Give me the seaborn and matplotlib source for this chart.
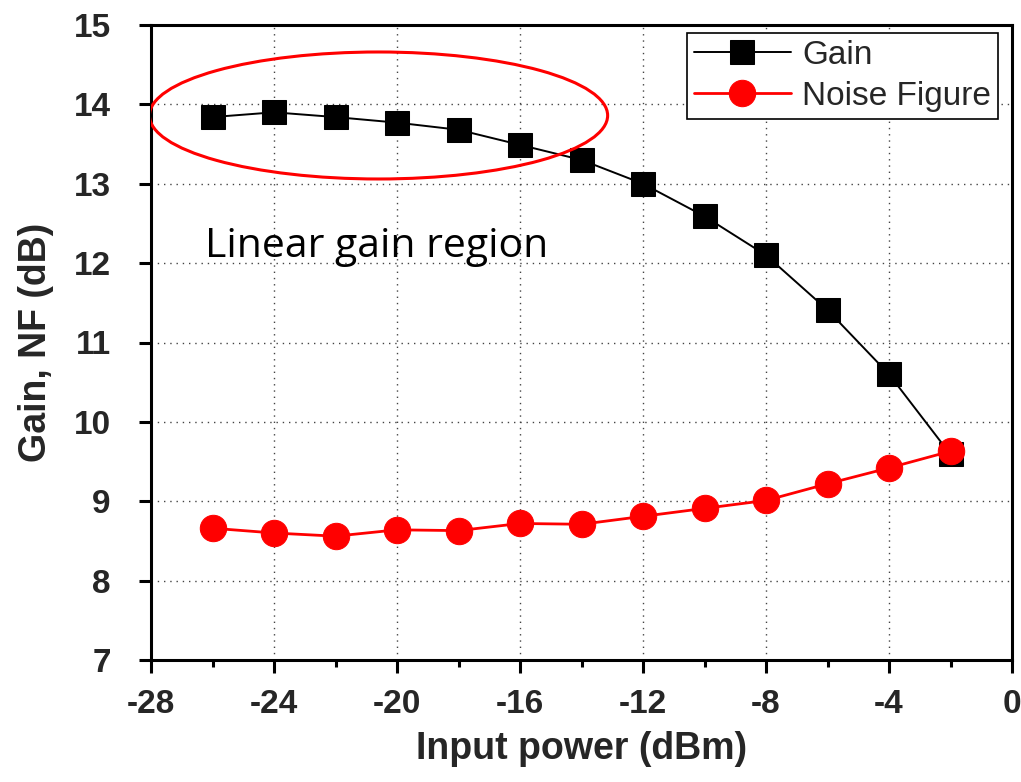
import matplotlib
matplotlib.use("Agg")
import matplotlib.pyplot as plt
from matplotlib.patches import Ellipse
from matplotlib.ticker import MultipleLocator
import seaborn as sns
import pandas as pd

# ---- data ----
input_power = [-26, -24, -22, -20, -18, -16, -14, -12, -10, -8, -6, -4, -2]
gain = [13.84, 13.90, 13.84, 13.77, 13.68, 13.49, 13.30, 13.00, 12.59, 12.10, 11.41, 10.60, 9.59]
noise_figure = [8.66, 8.60, 8.56, 8.64, 8.63, 8.72, 8.71, 8.81, 8.91, 9.01, 9.22, 9.42, 9.63]
x_ticks = [-28, -24, -20, -16, -12, -8, -4, 0]
y_ticks = [7, 8, 9, 10, 11, 12, 13, 14, 15]
annotation_text = "Linear gain region"
annotation_pos = (-26.25, 12.08)
ellipse_center = (-20.6, 13.86)
ellipse_size = (14.9, 1.6)

df = pd.DataFrame({"x": input_power, "gain": gain, "nf": noise_figure})

sns.set_theme(style="white")
plt.rcParams['font.family'] = ['Liberation Sans', 'DejaVu Sans']

fig = plt.figure(figsize=(10.21, 7.82), dpi=100)
ax = fig.add_axes([151/1021, 1-660/782, (1012-151)/1021, (660-25)/782])

sns.lineplot(data=df, x="x", y="gain", ax=ax, color="black", lw=1.4,
             marker="s", markersize=17, markeredgecolor="black",
             markerfacecolor="black", label="Gain", zorder=3)
sns.lineplot(data=df, x="x", y="nf", ax=ax, color="#ff0000", lw=2.0,
             marker="o", markersize=19, markeredgecolor="#ff0000",
             markerfacecolor="#ff0000", label="Noise Figure", zorder=4)

ax.set_xlim(-28, 0)
ax.set_ylim(7, 15)
ax.set_xticks(x_ticks)
ax.xaxis.set_minor_locator(MultipleLocator(2))
ax.set_yticks(y_ticks)
ax.set_xticklabels([str(t) for t in x_ticks], fontsize=24, fontweight="bold")
ax.set_yticklabels([str(t) for t in y_ticks], fontsize=24, fontweight="bold")
ax.tick_params(axis="both", which="major", direction="out", length=9, width=2.2,
               color="black", bottom=True, left=True)
ax.tick_params(axis="x", which="major", pad=12)
ax.tick_params(axis="y", which="major", pad=20)
ax.tick_params(axis="x", which="minor", direction="out", length=5, width=2.2,
               color="black", bottom=True)

for s in ax.spines.values():
    s.set_visible(True)
    s.set_color("black")
    s.set_linewidth(2.2)

ax.grid(True, which="major", color="#444444", linestyle=(0, (1, 3.5)), linewidth=1.0)
ax.set_axisbelow(True)

ax.set_xlabel("Input power (dBm)", fontsize=27, fontweight="bold", labelpad=8)
ax.set_ylabel("Gain, NF (dB)", fontsize=27, fontweight="bold", labelpad=14)

ell = Ellipse(ellipse_center, ellipse_size[0], ellipse_size[1], fill=False,
              edgecolor="#ff0000", lw=2.2, zorder=5)
ax.add_patch(ell)

ax.text(annotation_pos[0], annotation_pos[1], annotation_text, fontsize=29.5,
        family=["Open Sans", "DejaVu Sans"], ha="left", va="baseline", color="black")

leg = ax.legend(loc="upper right", bbox_to_anchor=(0.9837, 0.987), fontsize=24,
                frameon=True, fancybox=False, edgecolor="black", framealpha=1,
                borderpad=0.2, labelspacing=0.3, handlelength=2.9,
                handletextpad=0.35, borderaxespad=0.0)
leg.get_frame().set_linewidth(1.2)

fig.savefig("out.png", dpi=100)
